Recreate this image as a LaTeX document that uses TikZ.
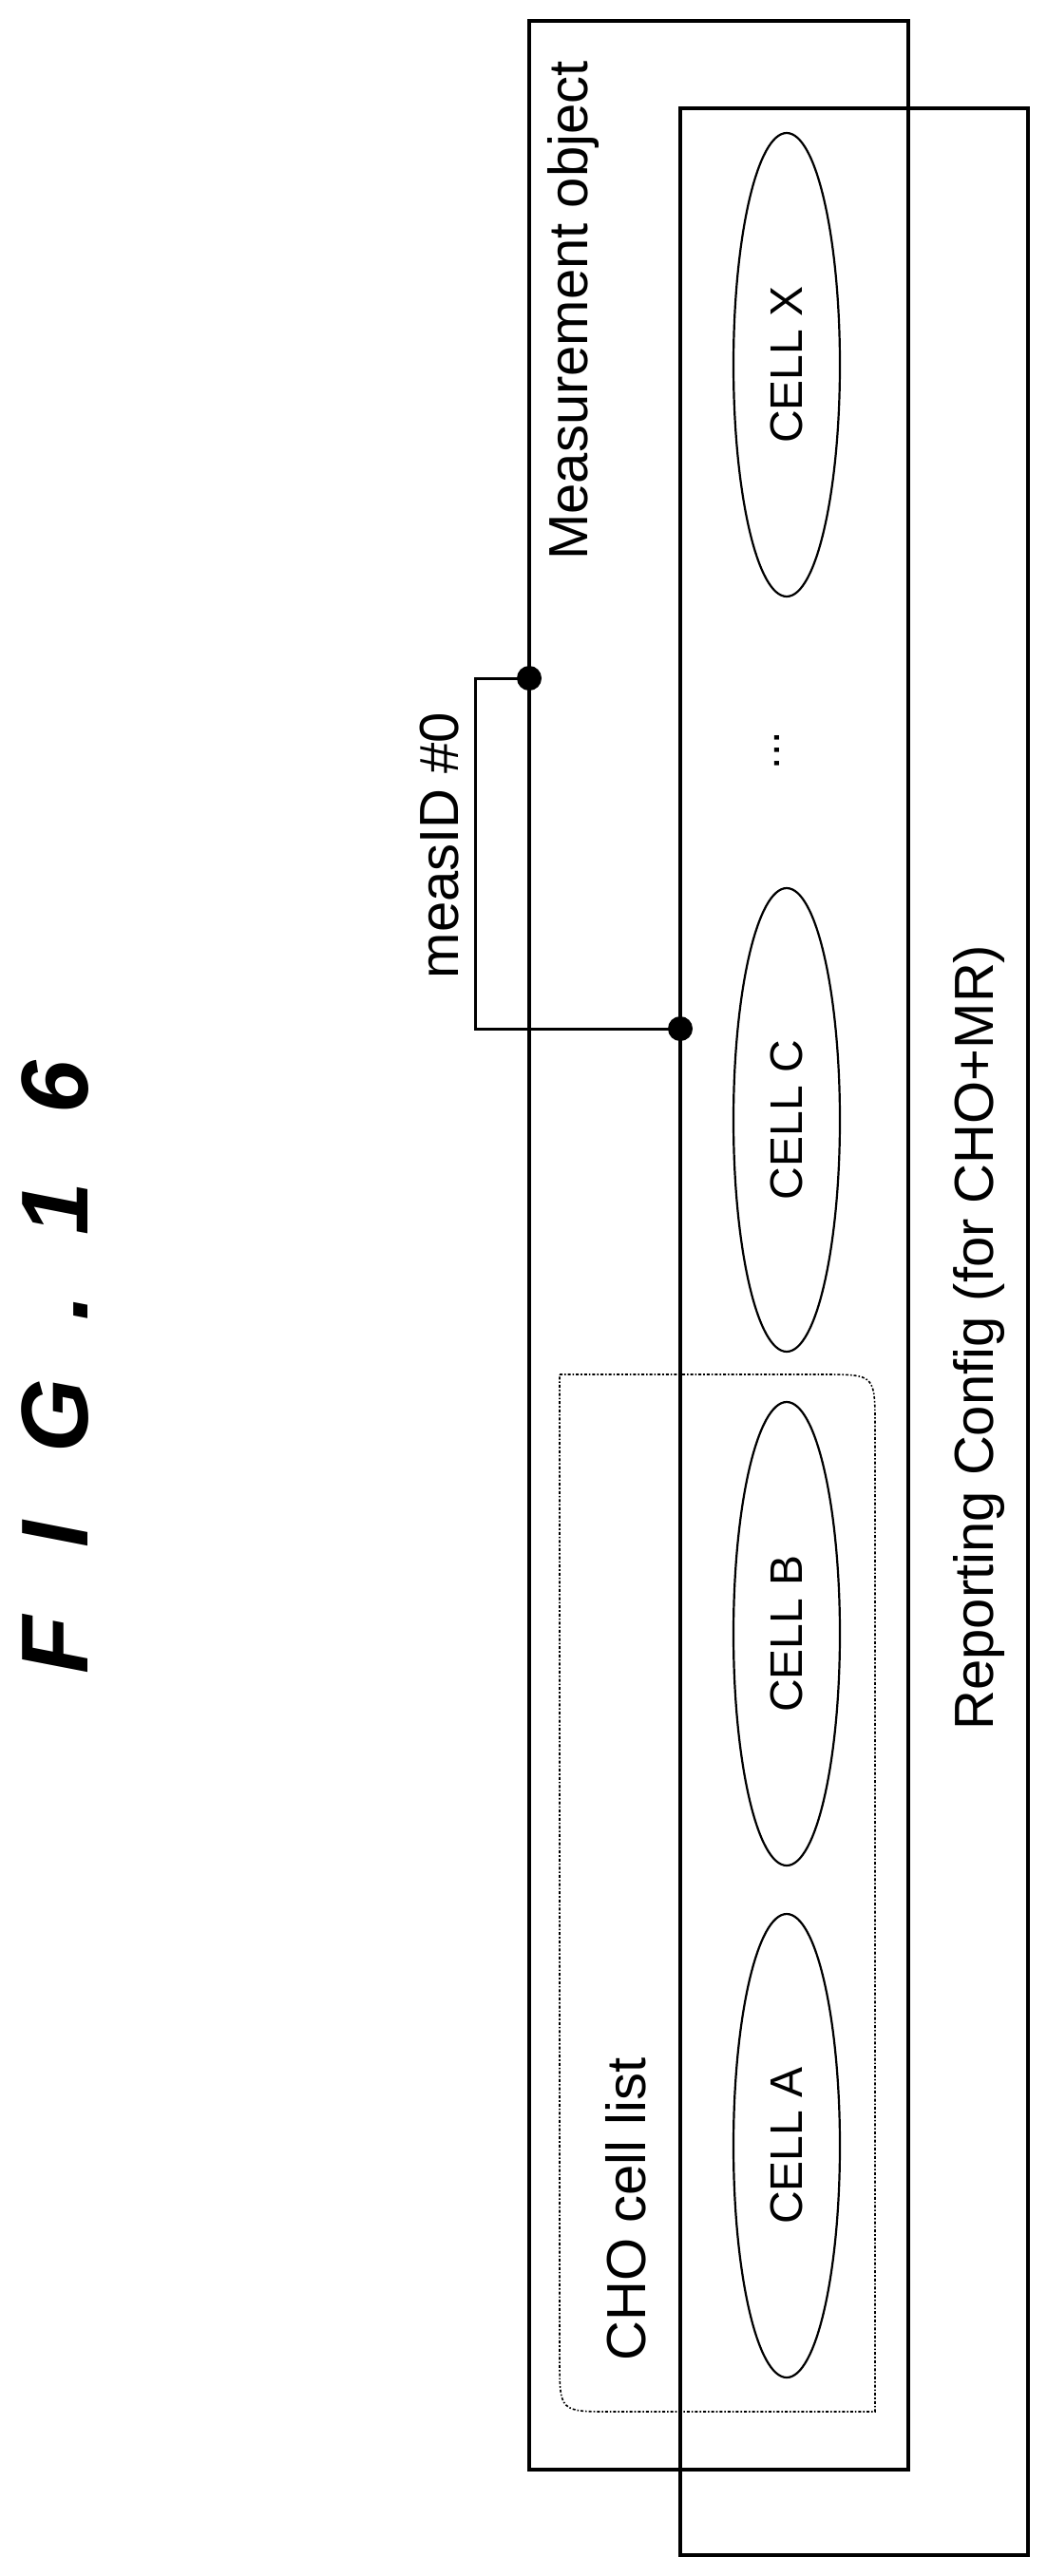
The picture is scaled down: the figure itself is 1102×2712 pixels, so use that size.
\documentclass[tikz,border=0pt]{standalone}
\usepackage{fontspec}
\setmainfont{Liberation Sans}
\usetikzlibrary{shapes.geometric}
\begin{document}
\begin{tikzpicture}[x=1pt,y=-1pt,
  box/.style={draw,line width=4pt,rectangle,inner sep=0pt},
  cell/.style={draw,line width=2.2pt,ellipse,inner sep=0pt,minimum width=112pt,minimum height=488pt},
  celltext/.style={rotate=90,font=\fontsize{48}{56}\selectfont},
  lbl/.style={rotate=90,font=\fontsize{58}{66}\selectfont},
  dot/.style={circle,fill=black,inner sep=0pt,minimum size=26pt},
  link/.style={line width=3pt}]
\useasboundingbox (0,0) rectangle (1102,2712);
\node[box,minimum width=399pt,minimum height=2578pt] (mo) at (756.5,1311) {};
\node[box,minimum width=366pt,minimum height=2576pt] (rc) at (899,1402) {};
% CHO cell list box
\draw[line width=1.6pt,dash dot] (589,1447) -- (866,1447) .. controls (921,1447) .. (921,1502) -- (921,2539) -- (644,2539) .. controls (589,2539) .. (589,2484) -- cycle;
\node[cell] (cx) at (828,384) {};
\node[cell] (cc) at (828,1179) {};
\node[cell] (cb) at (828,1720) {};
\node[cell] (ca) at (828,2259) {};
\node[celltext] (tx) at (cx) {CELL X};
\node[celltext] (tc) at (cc) {CELL C};
\node[celltext] (tb) at (cb) {CELL B};
\node[celltext] (ta) at (ca) {CELL A};
\node[celltext] (dots) at (818,790) {...};
\node[lbl] (lmo) at (603,327) {Measurement object};
\node[lbl] (lrc) at (1030,1408) {Reporting Config (for CHO+MR)};
\node[lbl] (lcho) at (659,2326) {CHO cell list};
\node[lbl] (lid) at (463,890) {measID \#0};
\node[rotate=90,font=\fontsize{100}{110}\selectfont\bfseries\itshape] (fig) at (58,1440) {F\hspace{72pt}I\hspace{72pt}G\hspace{62pt}.\hspace{62pt}1\hspace{72pt}6};
\coordinate (p1) at (557,714);
\coordinate (p2) at (716,1083);
\draw[link] (p1) -- (500,714) -- (500,1083) -- (p2);
\node[dot] (d1) at (p1) {};
\node[dot] (d2) at (p2) {};
\end{tikzpicture}
\end{document}
